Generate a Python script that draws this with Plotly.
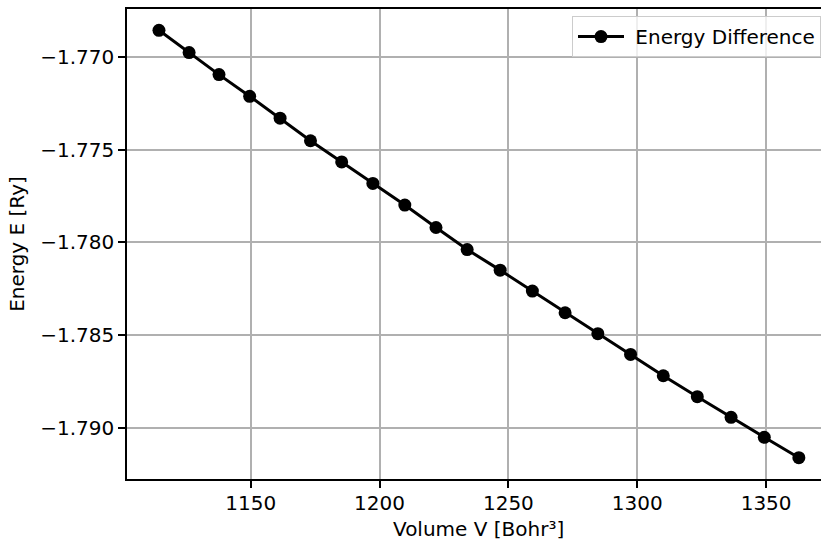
import plotly.graph_objects as go

volume = [1114.4, 1126.1, 1137.7, 1149.6, 1161.4, 1173.2, 1185.3, 1197.4, 1209.8,
          1221.9, 1234.0, 1246.8, 1259.3, 1272.0, 1284.7, 1297.4, 1310.1, 1323.3,
          1336.4, 1349.3, 1362.7]
energy = [-1.76856, -1.76976, -1.77095, -1.77212, -1.77330, -1.77452, -1.77566,
          -1.77682, -1.77799, -1.77920, -1.78039, -1.78150, -1.78263, -1.78380,
          -1.78493, -1.78605, -1.78720, -1.78833, -1.78944, -1.79052, -1.79162]
x_ticks = [1150, 1200, 1250, 1300, 1350]
y_ticks = [-1.770, -1.775, -1.780, -1.785, -1.790]
y_tick_labels = ["\u22121.770", "\u22121.775", "\u22121.780", "\u22121.785", "\u22121.790"]

FONT = "DejaVu Sans"

fig = go.Figure()
fig.add_trace(go.Scatter(
    x=volume, y=energy, mode="lines+markers", name="\u00a0Energy Difference",
    line=dict(color="black", width=3),
    marker=dict(color="black", size=13),
))

fig.update_layout(
    width=821, height=545,
    margin=dict(l=127, r=0, t=9, b=66),
    paper_bgcolor="white", plot_bgcolor="white",
    font=dict(family=FONT, size=20, color="black"),
    showlegend=True,
    legend=dict(x=1.0, xanchor="right", y=0.985, yanchor="top", itemwidth=46,
                bgcolor="rgba(255,255,255,0.8)", bordercolor="#cccccc", borderwidth=1,
                font=dict(family=FONT, size=20, color="black")),
    xaxis=dict(range=[1102.0, 1371.3], tickvals=x_ticks,
               ticks="outside", ticklen=7, tickwidth=1.6, tickcolor="black",
               ticklabelstandoff=-2,
               showline=True, linecolor="black", linewidth=1.6, mirror=True,
               showgrid=True, gridcolor="#b0b0b0", gridwidth=1.6, zeroline=False),
    yaxis=dict(range=[-1.79277, -1.76741], tickvals=y_ticks, ticktext=y_tick_labels,
               ticks="outside", ticklen=7, tickwidth=1.6, tickcolor="black",
               showline=True, linecolor="black", linewidth=1.6, mirror=False,
               showgrid=True, gridcolor="#b0b0b0", gridwidth=1.6, zeroline=False,
               title=dict(text="Energy E [Ry]", font=dict(family=FONT, size=20), standoff=10)),
    annotations=[dict(text="Volume V [Bohr\u00b3]", xref="paper", yref="paper",
                      x=(478.9 - 127) / (821 - 127), y=0, xanchor="center", yanchor="middle",
                      yshift=-50, showarrow=False, font=dict(family=FONT, size=20, color="black"))],
)

fig.write_html("out.html")
